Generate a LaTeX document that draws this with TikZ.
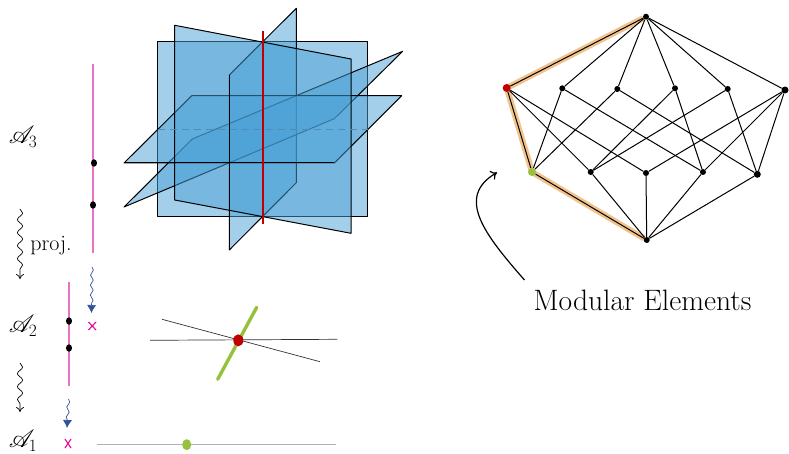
\documentclass[tikz,border=0pt]{standalone}
\usepackage{amsmath}
\usepackage{mathrsfs}
\usepackage{tikz}
\usetikzlibrary{arrows.meta,backgrounds,decorations.pathmorphing,shapes.geometric}
\usepackage{xcolor}
\definecolor{planeblue}{HTML}{4AA0D6}
\definecolor{planedash}{HTML}{4F8DB8}
\definecolor{flatred}{HTML}{C00000}
\definecolor{flatgreen}{HTML}{95C13D}
\definecolor{chainorange}{HTML}{F2C48D}
\definecolor{linepink}{HTML}{E872C4}
\definecolor{crosspink}{HTML}{E6109C}
\definecolor{squiggleblue}{HTML}{2F5597}
\tikzset{
  plane/.style={
    draw=black,
    fill=planeblue,
    fill opacity=0.5,
    line width=1pt,
    line join=round
  },
  latticept/.style={
    circle,
    fill=black,
    inner sep=0pt,
    minimum size=6pt
  },
  flatpt/.style={
    ellipse,
    inner sep=0pt
  },
  rankfont/.style={
    font=\fontsize{27}{30}\selectfont
  },
  chain/.style={
    line width=6pt,
    draw=chainorange
  },
  link/.style={
    line width=1pt,
    draw=black
  },
  projarrow/.style={
    -{To[length=5pt,width=8pt]},
    draw=black,
    line width=0.7pt,
    decorate,
    decoration={snake,amplitude=2.6pt,segment length=13pt,post length=6pt}
  },
  bluearrow/.style={
    -{Latex[length=8pt,width=9pt]},
    draw=squiggleblue,
    line width=0.7pt,
    decorate,
    decoration={snake,amplitude=1.4pt,segment length=10pt,post length=6pt}
  },
  crossmark/.style={
    draw=crosspink,
    line width=1.2pt
  },
  pinkline/.style={
    draw=linepink,
    line width=1.2pt
  }
}
\begin{document}
\begin{tikzpicture}[x=1pt,y=-1pt]
\useasboundingbox (0,0) rectangle (789,454);

% the arrangement in rank 3
\draw[plane] (157.7,42) rectangle (367.7,216.7);
\draw[plane] (296.3,8.3) -- (296.3,182.7) -- (229.3,250) -- (229.3,75) -- cycle;
\draw[plane] (402.7,51.3) -- (334.3,118.7) -- (124,207) -- (192.3,139) -- cycle;
\draw[plane] (191.7,95.7) -- (401.7,95.7) -- (334.3,163) -- (124,163) -- cycle;
\draw[plane] (174.7,25.3) -- (351,59) -- (351,233.3) -- (174.7,200) -- cycle;
\draw[black,line width=1pt] (229.3,75) -- (229.3,250);
\draw[black,line width=1pt] (124,163) -- (334.3,163);
\draw[draw=planedash,line width=0.6pt,dash pattern=on 7pt off 5pt] (157.7,129) -- (367.7,129);
\draw[draw=flatred,line width=1.8pt] (262.7,30.7) -- (262.7,224);

% the same thing in rank 2 and rank 1
\draw[black!80,line width=0.7pt] (150,340.3) -- (337.3,339.3);
\draw[black!80,line width=0.7pt] (162,319.3) -- (320,361.7);
\draw[draw=flatgreen,line width=3.4pt,line cap=round] (256.7,307.3) -- (217.7,379.3);
\node[flatpt,fill=flatred,minimum width=10pt,minimum height=12pt] (redflat) at (238.3,340.3) {};
\draw[black!30,line width=0.8pt] (97.3,444.3) -- (335.7,444.3);
\node[flatpt,fill=flatgreen,minimum width=9pt,minimum height=11pt] (greenflat) at (186.7,444.7) {};

% projected lines
\draw[pinkline] (93,64) -- (93,253);
\draw[pinkline] (69,282) -- (69,386);
\foreach \x/\y in {94/163,93/205,69/321,69/348}
  \node[flatpt,fill=black,minimum width=6pt,minimum height=7.5pt] at (\x,\y) {};
\draw[bluearrow] (92,267) -- (91.5,313);
\draw[bluearrow] (68.5,399) -- (67,428);
\draw[crossmark] (88.5,322) -- (96,330) (96,322) -- (88.5,330);
\draw[crossmark] (65,439) -- (71,448) (71,439) -- (65,448);

% labels on the left
\node[rankfont] (rankthree) at (23,137) {$\mathscr{A}_3$};
\node[rankfont] (ranktwo) at (23,326) {$\mathscr{A}_2$};
\node[rankfont] (rankone) at (23,441) {$\mathscr{A}_1$};
\draw[projarrow] (20,209) -- (20,279);
\draw[projarrow] (20,363) -- (20,412);
\node[font=\fontsize{22}{24}\selectfont] (projlabel) at (51,246) {proj.};

% lattice of flats
\node[latticept] (top) at (646,16.7) {};
\node[latticept,fill=flatred,minimum size=8pt] (red) at (506.7,88) {};
\node[latticept] (upa) at (562.3,88.3) {};
\node[latticept] (upb) at (617.3,89) {};
\node[latticept] (upc) at (675,88.3) {};
\node[latticept] (upd) at (727.7,89) {};
\node[latticept,minimum size=7pt] (upe) at (785,90) {};
\node[latticept,fill=flatgreen,minimum size=8pt] (green) at (532,172) {};
\node[latticept] (lowa) at (590.7,172) {};
\node[latticept] (lowb) at (646,173) {};
\node[latticept] (lowc) at (703,172) {};
\node[latticept,minimum size=7pt] (lowd) at (757.3,174.3) {};
\node[latticept] (bottom) at (646.7,240) {};

\begin{pgfonlayer}{background}
\draw[chain] (top) -- (red.center) -- (green.center) -- (bottom);
\foreach \a/\b in {top/red,top/upa,top/upb,top/upc,top/upd,top/upe,
    red/green,red/lowa,red/lowb,upa/green,upa/lowc,upb/green,upb/lowd,
    upc/lowa,upc/lowc,upd/lowa,upd/lowd,upe/lowb,upe/lowc,upe/lowd,
    green/bottom,lowa/bottom,lowb/bottom,lowc/bottom,lowd/bottom}
  \draw[link] (\a) -- (\b);
\end{pgfonlayer}

\node[font=\fontsize{29.5}{32}\selectfont] (modular) at (642.5,300) {Modular Elements};
\coordinate (modtail) at (524.5,280);
\coordinate (modhead) at (497,172.5);
\draw[-{To[length=6pt,width=10pt]},line width=1.2pt] (modtail) .. controls (485,235) and (455,197) .. (modhead);
\end{tikzpicture}
\end{document}
